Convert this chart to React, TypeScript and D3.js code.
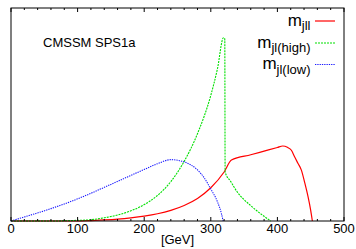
import React from "react";
import * as d3 from "d3";

const xTicksMajor = [0, 100, 200, 300, 400, 500];
const xTicksMinor = [20, 40, 60, 80, 120, 140, 160, 180, 220, 240, 260, 280, 320, 340, 360, 380, 420, 440, 460, 480];

const redX = [0, 100, 120, 140, 160, 180, 200, 220, 240, 260, 280, 300, 320, 331, 360, 380, 400, 408, 415, 421, 426, 431, 436, 441, 446, 450, 452.5];
const redY = [0, 0, 0.2, 0.5, 0.9, 1.5, 2.3, 3.4, 5.0, 7.3, 10.6, 15.6, 23.0, 28.6, 31.1, 32.8, 34.5, 35.2, 34.6, 33.2, 30, 27, 23.9, 18, 11.4, 5, 0];

const greenX = [0, 60, 100, 120, 140, 160, 180, 200, 220, 240, 260, 280, 300, 310, 319, 321, 321.5, 330, 340, 350, 360, 370, 380, 390];
const greenY = [0, 0, 0.3, 0.6, 1.5, 2.8, 4.8, 7.7, 12, 18.5, 28, 41, 59, 71.5, 86, 85.5, 23, 18.5, 13.5, 10, 7.2, 4.6, 2.2, 0];

const blueX = [0, 20, 40, 60, 80, 100, 120, 140, 160, 180, 200, 220, 240, 255, 270, 280, 290, 300, 310, 316, 318.5];
const blueY = [0, 1.9, 3.8, 5.8, 8, 10.4, 13, 15.8, 18.6, 21.4, 24.2, 26.9, 28.8, 28.2, 26.3, 24.0, 20.3, 15.0, 9, 3.4, 0];

const seriesNames = ["jll", "jl(high)", "jl(low)"];
const titleText = "CMSSM SPS1a";
const xLabel = "[GeV]";

const W = 356;
const H = 249;
const L = 11, R = 344, T = 8, B = 221;
const FONT = "'Liberation Sans', Arial, Helvetica, sans-serif";

export default function App() {
  const x = d3.scaleLinear().domain([0, 500]).range([L, R]);
  const y = d3.scaleLinear().domain([0, 100]).range([B, T]);
  const mk = (xs: number[], ys: number[]) =>
    d3
      .line<number>()
      .x((_, i) => x(xs[i]))
      .y((d) => y(d))
      .curve(d3.curveMonotoneX)(ys) || "";

  const series = [
    { path: mk(redX, redY), color: "#ff0000", dash: "none", w: 1.2 },
    { path: mk(greenX, greenY), color: "#00e000", dash: "2,1", w: 1.1 },
    { path: mk(blueX, blueY), color: "#1a1aff", dash: "1.3,1", w: 1.1 },
  ];
  const legendY = [21, 43, 64.5];

  return (
    <svg
      width={W}
      height={H}
      style={{ position: "absolute", left: 0, top: 0, background: "#fff" }}
      fontFamily={FONT}
    >
      <rect x={0} y={0} width={W} height={H} fill="#fff" />
      <defs>
        <clipPath id="plot">
          <rect x={L} y={T} width={R - L} height={B - T + 1} />
        </clipPath>
      </defs>
      {series.map((s, i) => (
        <path
          key={i}
          d={s.path}
          fill="none"
          stroke={s.color}
          strokeWidth={s.w}
          strokeDasharray={s.dash}
          clipPath="url(#plot)"
        />
      ))}
      <rect x={L} y={T} width={R - L} height={B - T} fill="none" stroke="#000" strokeWidth={1} />
      {xTicksMajor.map((t) => (
        <g key={"M" + t}>
          <line x1={x(t)} x2={x(t)} y1={B} y2={B - 4} stroke="#000" />
          <line x1={x(t)} x2={x(t)} y1={T} y2={T + 4} stroke="#000" />
          <text x={x(t)} y={233} fontSize={13} textAnchor="middle" fill="#000">
            {t}
          </text>
        </g>
      ))}
      {xTicksMinor.map((t) => (
        <g key={"m" + t}>
          <line x1={x(t)} x2={x(t)} y1={B} y2={B - 2} stroke="#000" />
          <line x1={x(t)} x2={x(t)} y1={T} y2={T + 2} stroke="#000" />
        </g>
      ))}
      <text x={177.5} y={243.5} fontSize={13} textAnchor="middle" fill="#000">
        {xLabel}
      </text>
      <text x={43} y={46.5} fontSize={13} fill="#000">
        {titleText}
      </text>
      {seriesNames.map((n, i) => (
        <g key={n}>
          <text x={310.5} y={legendY[i] + 4.5} textAnchor="end" fill="#000" fontSize={17}>
            <tspan>m</tspan>
            <tspan fontSize={13} dy={4.5}>
              {n}
            </tspan>
          </text>
          <line
            x1={315}
            x2={335}
            y1={legendY[i]}
            y2={legendY[i]}
            stroke={series[i].color}
            strokeWidth={series[i].w}
            strokeDasharray={series[i].dash}
          />
        </g>
      ))}
    </svg>
  );
}
